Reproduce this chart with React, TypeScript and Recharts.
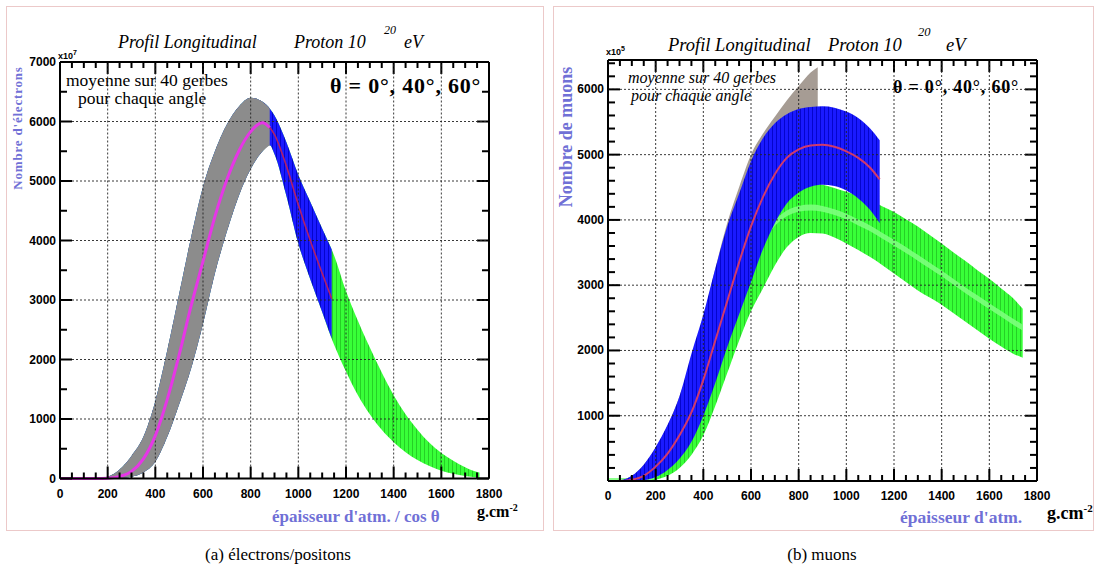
import React from 'react';
import { ComposedChart, Area, Line, XAxis, YAxis, ReferenceLine, ReferenceArea } from 'recharts';

// électrons/positons (x10^7) vs épaisseur oblique, profil commun aux 3 angles
const eDepth = [0, 50, 100, 150, 200, 250, 300, 350, 400, 450, 500, 550, 600, 650, 700, 750, 800, 850, 880, 900, 950, 1000, 1050, 1100, 1140, 1150, 1200, 1250, 1300, 1350, 1400, 1450, 1500, 1550, 1600, 1650, 1700, 1750, 1760];
const eMean = [0, 0, 0, 0, 5, 35, 120, 330, 720, 1330, 2080, 2900, 3650, 4400, 5020, 5500, 5830, 5980, 5900, 5780, 5250, 4600, 4000, 3450, 3020, 2900, 2350, 1900, 1520, 1200, 930, 710, 540, 400, 290, 200, 130, 80, 70];
const eLow = [0, 0, 0, 0, 0, 5, 30, 100, 280, 700, 1250, 1850, 2600, 3450, 4150, 4750, 5200, 5500, 5600, 5450, 4750, 3950, 3350, 2800, 2350, 2250, 1800, 1400, 1080, 820, 610, 440, 310, 210, 130, 80, 40, 15, 10];
const eHigh = [0, 0, 0, 5, 30, 150, 380, 700, 1300, 2150, 3100, 4050, 4900, 5500, 5950, 6250, 6400, 6330, 6220, 6100, 5650, 5100, 4650, 4200, 3850, 3750, 3150, 2650, 2200, 1780, 1400, 1080, 820, 600, 430, 300, 190, 110, 100];
// profondeur du sol pour 0°, 40°, 60°
const groundDepth = [880, 1140, 1760];

// muons (x10^5), theta = 0°
const mu0Depth = [0, 50, 100, 150, 200, 250, 300, 350, 400, 450, 500, 550, 600, 650, 700, 750, 800, 850, 880];
const mu0Mean = [0, 5, 50, 170, 380, 680, 1080, 1580, 2150, 2750, 3350, 3850, 4300, 4650, 4950, 5200, 5400, 5560, 5640];
const mu0Low = [0, 0, 20, 80, 200, 400, 700, 1100, 1600, 2150, 2700, 3200, 3650, 4000, 4300, 4550, 4750, 4900, 4950];
const mu0High = [0, 10, 80, 250, 500, 850, 1300, 1850, 2500, 3250, 3950, 4500, 5000, 5320, 5580, 5830, 6050, 6260, 6340];

// muons, theta = 40°
const mu40Depth = [0, 50, 100, 150, 200, 250, 300, 350, 400, 450, 500, 550, 600, 650, 700, 750, 800, 850, 900, 950, 1000, 1050, 1100, 1140];
const mu40Mean = [0, 0, 20, 80, 220, 420, 700, 1050, 1550, 2150, 2750, 3350, 3900, 4350, 4700, 4950, 5080, 5140, 5150, 5120, 5050, 4950, 4800, 4620];
const mu40Low = [0, 0, 0, 10, 60, 170, 340, 600, 1000, 1500, 2050, 2550, 3050, 3550, 3950, 4250, 4420, 4510, 4540, 4520, 4450, 4330, 4150, 3950];
const mu40High = [0, 10, 80, 250, 520, 860, 1300, 1950, 2550, 3250, 3900, 4400, 4900, 5250, 5480, 5620, 5700, 5730, 5740, 5720, 5660, 5560, 5400, 5220];

// muons, theta = 60°
const mu60Depth = [0, 50, 100, 150, 200, 250, 300, 350, 400, 450, 500, 550, 600, 650, 700, 750, 800, 850, 900, 950, 1000, 1050, 1100, 1150, 1200, 1250, 1300, 1350, 1400, 1450, 1500, 1550, 1600, 1650, 1700, 1740];
const mu60Mean = [0, 0, 0, 20, 90, 250, 500, 850, 1400, 2000, 2550, 3000, 3400, 3700, 3950, 4100, 4170, 4190, 4170, 4120, 4050, 3960, 3870, 3760, 3650, 3540, 3420, 3300, 3180, 3050, 2920, 2800, 2680, 2560, 2440, 2350];
const mu60Low = [0, 0, 0, 0, 20, 80, 200, 400, 700, 1150, 1650, 2150, 2600, 2950, 3300, 3580, 3740, 3800, 3790, 3730, 3640, 3540, 3430, 3310, 3180, 3050, 2920, 2810, 2700, 2570, 2440, 2310, 2180, 2060, 1950, 1890];
const mu60High = [0, 0, 30, 100, 250, 520, 900, 1450, 2150, 2800, 3400, 3850, 4150, 4350, 4480, 4550, 4560, 4560, 4540, 4490, 4430, 4370, 4300, 4210, 4120, 4010, 3900, 3770, 3640, 3500, 3370, 3230, 3100, 2950, 2800, 2640];

const depthLabels = [0, 200, 400, 600, 800, 1000, 1200, 1400, 1600, 1800];
const eLabels = [0, 1000, 2000, 3000, 4000, 5000, 6000, 7000];
const muLabels = [1000, 2000, 3000, 4000, 5000, 6000];

const SERIF = '"Liberation Serif", "DejaVu Serif", serif';
const SANS = '"Liberation Sans", Arial, sans-serif';
const AXIS_BLUE = '#7070d6';

const CH_W = 545;
const CH_H = 540;
const PLOT_L = 60;
const PLOT_R = 489;

type Band = { key: string; depth: number[]; low: number[]; high: number[]; mean: number[] };

function buildRows(bands: Band[]) {
  const xs = Array.from(new Set(bands.flatMap(b => b.depth))).sort((a, b) => a - b);
  return xs.map(x => {
    const row: Record<string, unknown> = { x };
    bands.forEach(b => {
      const i = b.depth.indexOf(x);
      if (i >= 0) {
        row[b.key] = [b.low[i], b.high[i]];
        row[b.key + 'Mean'] = b.mean[i];
      }
    });
    return row;
  });
}

// electron profile stopped at ground level for each angle
function eBand(key: string, end: number): Band {
  const n = eDepth.filter(d => d <= end).length;
  return { key, depth: eDepth.slice(0, n), low: eLow.slice(0, n), high: eHigh.slice(0, n), mean: eMean.slice(0, n) };
}

const eRows = buildRows([eBand('a0', groundDepth[0]), eBand('a40', groundDepth[1]), eBand('a60', groundDepth[2])]);
const muRows = buildRows([
  { key: 'a0', depth: mu0Depth, low: mu0Low, high: mu0High, mean: mu0Mean },
  { key: 'a40', depth: mu40Depth, low: mu40Low, high: mu40High, mean: mu40Mean },
  { key: 'a60', depth: mu60Depth, low: mu60Low, high: mu60High, mean: mu60Mean },
]);

// light stripe along the 60° muon mean, kept as an area so the 40° band can cover it
const stripe60 = (r: any) => (r.a60Mean == null ? undefined : [r.a60Mean - 45, r.a60Mean + 45]);

const xTicks = Array.from({ length: 37 }, (_, i) => i * 50);

function xLabel(bottom: number) {
  return (props: any) => {
    const { x, payload } = props;
    const v = payload.value as number;
    if (v % 200 !== 0) return <g />;
    return (
      <text x={x} y={bottom + 19} textAnchor="middle" fontFamily={SANS} fontWeight="bold" fontSize={12} fill="#000">
        {v}
      </text>
    );
  };
}

function yLabel(showZero: boolean) {
  return (props: any) => {
    const { y, payload } = props;
    const v = payload.value as number;
    if (v % 1000 !== 0 || (v === 0 && !showZero)) return <g />;
    return (
      <text x={PLOT_L - 4} y={y + 4} textAnchor="end" fontFamily={SANS} fontWeight="bold" fontSize={12} fill="#000">
        {v}
      </text>
    );
  };
}

// inward tick marks on the four sides of the frame (lengths in pixels, turned into data units)
function frameTicks(yTicks: number[], yMax: number, plotH: number) {
  const dy = yMax / plotH;
  const dx = 1800 / (PLOT_R - PLOT_L);
  const tick = { stroke: '#000', strokeWidth: 2, ifOverflow: 'visible' as const };
  const out: React.ReactNode[] = [];
  xTicks.forEach(v => {
    const len = (v % 200 === 0 ? 12 : 6) * dy;
    out.push(<ReferenceLine key={'xb' + v} segment={[{ x: v, y: 0 }, { x: v, y: len }]} {...tick} />);
    out.push(<ReferenceArea key={'xt' + v} x1={v - dx} x2={v + dx} y1={yMax - len} y2={yMax} fill="#000" fillOpacity={1} stroke="none" ifOverflow="visible" />);
  });
  yTicks.forEach(v => {
    const len = (v % 1000 === 0 ? 12 : 7) * dx;
    out.push(<ReferenceLine key={'yl' + v} segment={[{ x: 0, y: v }, { x: len, y: v }]} {...tick} />);
    out.push(<ReferenceArea key={'yr' + v} x1={1800 - len} x2={1800} y1={v - dy} y2={v + dy} fill="#000" fillOpacity={1} stroke="none" ifOverflow="visible" />);
  });
  return out;
}

function Patterns() {
  return (
    <defs>
      <pattern id="hatchGreen" patternUnits="userSpaceOnUse" width="4" height="10">
        <rect width="4" height="10" fill="#38ff38" />
        <line x1="0.5" y1="0" x2="0.5" y2="10" stroke="#1fbf1f" strokeWidth="1" opacity="0.75" />
      </pattern>
      <pattern id="hatchBlue" patternUnits="userSpaceOnUse" width="4" height="10">
        <rect width="4" height="10" fill="#1a1aff" />
        <line x1="0.5" y1="0" x2="0.5" y2="10" stroke="#0000c0" strokeWidth="1" opacity="0.8" />
      </pattern>
    </defs>
  );
}

function grid(yValues: number[], yMax: number) {
  return [
    ...depthLabels.slice(1, -1).map(v => (
      <ReferenceLine key={'gx' + v} x={v} stroke="#222" strokeWidth={0.9} strokeDasharray="2 2" />
    )),
    ...yValues.map(v => (
      <ReferenceLine key={'gy' + v} y={v} stroke="#222" strokeWidth={0.9} strokeDasharray="2 2" />
    )),
    <ReferenceLine key="top" y={yMax} stroke="#000" strokeWidth={2} />,
    <ReferenceLine key="right" x={1800} stroke="#000" strokeWidth={2} />,
  ];
}

function T({ x, y, size, children, style }: { x: number; y: number; size: number; children: React.ReactNode; style?: React.CSSProperties }) {
  return (
    <div style={{ position: 'absolute', left: x, top: y, fontSize: size, lineHeight: 1, whiteSpace: 'nowrap', fontFamily: SERIF, ...style }}>
      {children}
    </div>
  );
}

function ElectronChart() {
  const top = 62;
  const bottom = 478.5;
  const yTicks = Array.from({ length: 15 }, (_, i) => i * 500);
  return (
    <ComposedChart width={CH_W} height={CH_H} data={eRows} margin={{ top, right: CH_W - PLOT_R, left: 10, bottom: CH_H - bottom - 30 }}>
      <Patterns />
      <XAxis dataKey="x" type="number" domain={[0, 1800]} ticks={xTicks} interval={0} height={30} tickLine={false}
        axisLine={{ stroke: '#000', strokeWidth: 2 }} tick={xLabel(bottom)} />
      <YAxis type="number" domain={[0, 7000]} ticks={yTicks} interval={0} width={50} tickLine={false}
        axisLine={{ stroke: '#000', strokeWidth: 2 }} tick={yLabel(true)} />
      {grid(eLabels.slice(1, -1), 7000)}
      <Area type="monotone" dataKey="a60" stroke="none" fill="url(#hatchGreen)" fillOpacity={1} connectNulls isAnimationActive={false} />
      <Area type="monotone" dataKey="a40" stroke="none" fill="url(#hatchBlue)" fillOpacity={1} connectNulls isAnimationActive={false} />
      <Area type="monotone" dataKey="a0" stroke="none" fill="#8c8c8c" fillOpacity={1} connectNulls isAnimationActive={false} />
      <Line type="monotone" dataKey="a40Mean" stroke="#b0206a" strokeWidth={1.6} dot={false} connectNulls isAnimationActive={false} />
      <Line type="monotone" dataKey="a0Mean" stroke="#e636e6" strokeWidth={3} dot={false} connectNulls isAnimationActive={false} />
      {frameTicks(yTicks, 7000, bottom - top)}
    </ComposedChart>
  );
}

function MuonChart() {
  const top = 60;
  const bottom = 481;
  const yTicks = Array.from({ length: 33 }, (_, i) => i * 200);
  return (
    <ComposedChart width={CH_W} height={CH_H} data={muRows} margin={{ top, right: CH_W - PLOT_R, left: 10, bottom: CH_H - bottom - 30 }}>
      <Patterns />
      <XAxis dataKey="x" type="number" domain={[0, 1800]} ticks={xTicks} interval={0} height={30} tickLine={false}
        axisLine={{ stroke: '#000', strokeWidth: 2 }} tick={xLabel(bottom)} />
      <YAxis type="number" domain={[0, 6450]} ticks={yTicks} interval={0} width={50} tickLine={false} allowDataOverflow
        axisLine={{ stroke: '#000', strokeWidth: 2 }} tick={yLabel(false)} />
      {grid(muLabels, 6450)}
      <Area type="monotone" dataKey="a0" stroke="none" fill="#a69c94" fillOpacity={1} connectNulls isAnimationActive={false} />
      <Area type="monotone" dataKey="a60" stroke="none" fill="url(#hatchGreen)" fillOpacity={1} connectNulls isAnimationActive={false} />
      <Area type="monotone" dataKey={stripe60} stroke="none" fill="#7dff7d" fillOpacity={0.9} connectNulls isAnimationActive={false} />
      <Area type="monotone" dataKey="a40" stroke="none" fill="url(#hatchBlue)" fillOpacity={1} connectNulls isAnimationActive={false} />
      <Line type="monotone" dataKey="a40Mean" stroke="#d03a6c" strokeWidth={2} dot={false} connectNulls isAnimationActive={false} />
      {frameTicks(yTicks, 6450, bottom - top)}
    </ComposedChart>
  );
}

export default function App() {
  const frame: React.CSSProperties = { position: 'absolute', top: 6, height: 525, border: '1px solid #ecc9c9', boxSizing: 'border-box' };
  const rot: React.CSSProperties = { color: AXIS_BLUE, fontWeight: 'bold', transform: 'translate(-50%, -50%) rotate(-90deg)' };
  return (
    <div style={{ position: 'absolute', left: 0, top: 0, width: 1098, height: 578, background: '#fff', overflow: 'hidden', color: '#000' }}>
      <div style={{ ...frame, left: 6, width: 538 }} />
      <div style={{ ...frame, left: 553, width: 541 }} />

      <div style={{ position: 'absolute', left: 0, top: 0 }}>
        <ElectronChart />
      </div>
      <div style={{ position: 'absolute', left: 548, top: 0 }}>
        <MuonChart />
      </div>

      {/* panneau (a) */}
      <T x={118} y={33} size={18} style={{ fontStyle: 'italic' }}>Profil Longitudinal</T>
      <T x={294} y={33} size={18} style={{ fontStyle: 'italic' }}>Proton 10</T>
      <T x={384} y={24} size={12} style={{ fontStyle: 'italic' }}>20</T>
      <T x={404} y={33} size={18} style={{ fontStyle: 'italic' }}>eV</T>
      <T x={58} y={49} size={9} style={{ fontFamily: SANS, fontWeight: 'bold' }}>x10<sup style={{ fontSize: 7 }}>7</sup></T>
      <T x={66} y={72} size={17.5}>moyenne sur 40 gerbes</T>
      <T x={78} y={90} size={17.5}>pour chaque angle</T>
      <T x={330} y={75} size={22} style={{ fontWeight: 'bold', letterSpacing: 0.8 }}>θ = 0°, 40°, 60°</T>
      <T x={17} y={128} size={13} style={{ ...rot, letterSpacing: 0.8 }}>Nombre d'électrons</T>
      <T x={272} y={508} size={17} style={{ color: AXIS_BLUE, fontWeight: 'bold' }}>épaisseur d'atm. / cos  θ</T>
      <T x={477} y={503} size={16} style={{ fontWeight: 'bold' }}>g.cm<sup style={{ fontSize: 10 }}>-2</sup></T>
      <T x={278} y={546} size={17} style={{ transform: 'translateX(-50%)' }}>(a)  électrons/positons</T>

      {/* panneau (b) */}
      <T x={668} y={36} size={18.5} style={{ fontStyle: 'italic' }}>Profil Longitudinal</T>
      <T x={828} y={36} size={18.5} style={{ fontStyle: 'italic' }}>Proton 10</T>
      <T x={918} y={26} size={12.5} style={{ fontStyle: 'italic' }}>20</T>
      <T x={946} y={36} size={18.5} style={{ fontStyle: 'italic' }}>eV</T>
      <T x={606} y={45} size={9} style={{ fontFamily: SANS, fontWeight: 'bold' }}>x10<sup style={{ fontSize: 7 }}>5</sup></T>
      <T x={628} y={70} size={16} style={{ fontStyle: 'italic' }}>moyenne sur 40 gerbes</T>
      <T x={631} y={88} size={16} style={{ fontStyle: 'italic' }}>pour chaque angle</T>
      <T x={893} y={78} size={18} style={{ fontWeight: 'bold', letterSpacing: 0.8 }}>θ = 0°, 40°, 60°</T>
      <T x={566} y={137} size={18} style={rot}>Nombre de muons</T>
      <T x={900} y={509} size={17.5} style={{ color: AXIS_BLUE, fontWeight: 'bold' }}>épaisseur d'atm.</T>
      <T x={1047} y={503} size={18} style={{ fontWeight: 'bold' }}>g.cm<sup style={{ fontSize: 11 }}>-2</sup></T>
      <T x={822} y={546} size={17} style={{ transform: 'translateX(-50%)' }}>(b)  muons</T>
    </div>
  );
}
